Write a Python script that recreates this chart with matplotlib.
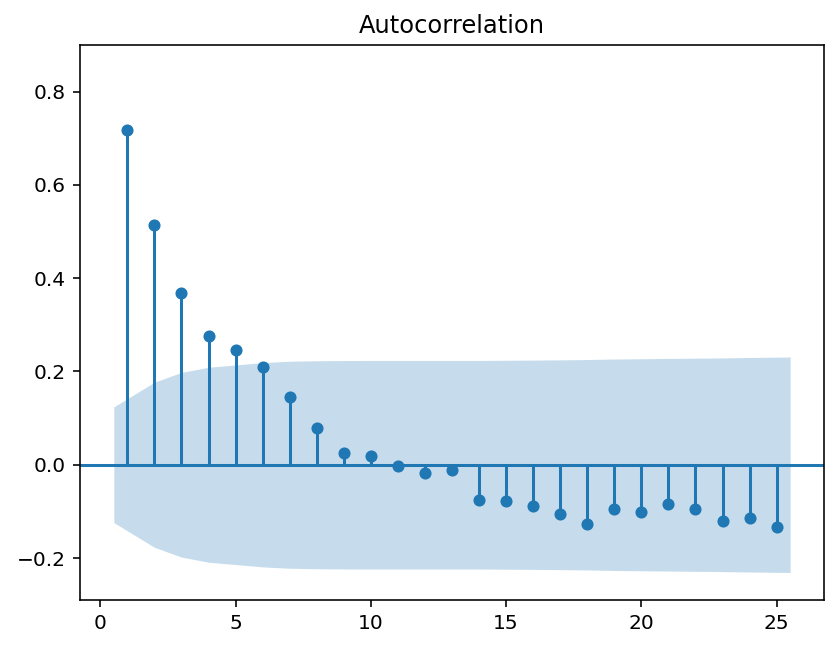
import numpy as np
import matplotlib
matplotlib.use("Agg")
import matplotlib.pyplot as plt

lags = np.arange(1, 26)
acf_vals = [0.718, 0.515, 0.369, 0.275, 0.247, 0.210, 0.146, 0.079, 0.026, 0.019,
            -0.002, -0.017, -0.011, -0.075, -0.077, -0.088, -0.105, -0.126, -0.094, -0.101,
            -0.084, -0.094, -0.120, -0.114, -0.133]

# upper edge of the confidence band (symmetric around 0)
band_x = [0.5] + list(range(2, 25)) + [25.5]
band_hi = [0.124, 0.177, 0.198, 0.209, 0.214, 0.219, 0.222, 0.223, 0.2235, 0.2236,
           0.2236, 0.2236, 0.2236, 0.2236, 0.224, 0.2244, 0.2249, 0.2256, 0.2267, 0.2273,
           0.228, 0.2285, 0.2291, 0.230, 0.231]

DPI = 145
fig, ax = plt.subplots(figsize=(839 / DPI, 650 / DPI), dpi=DPI)

ax.vlines(lags, 0, acf_vals, colors="C0")
ax.axhline(0, color="C0")
ax.plot(lags, acf_vals, marker="o", markersize=5, linestyle="None", color="C0")
ax.fill_between(band_x, -np.array(band_hi), band_hi, alpha=0.25, color="C0", linewidth=0)

ax.set_xlim(-0.75, 26.75)
ax.set_ylim(-0.29, 0.90)
ax.set_title("Autocorrelation")

fig.subplots_adjust(left=80 / 839, right=824 / 839, top=1 - 45 / 650, bottom=1 - 600 / 650)
fig.savefig("out.png", dpi=DPI)
